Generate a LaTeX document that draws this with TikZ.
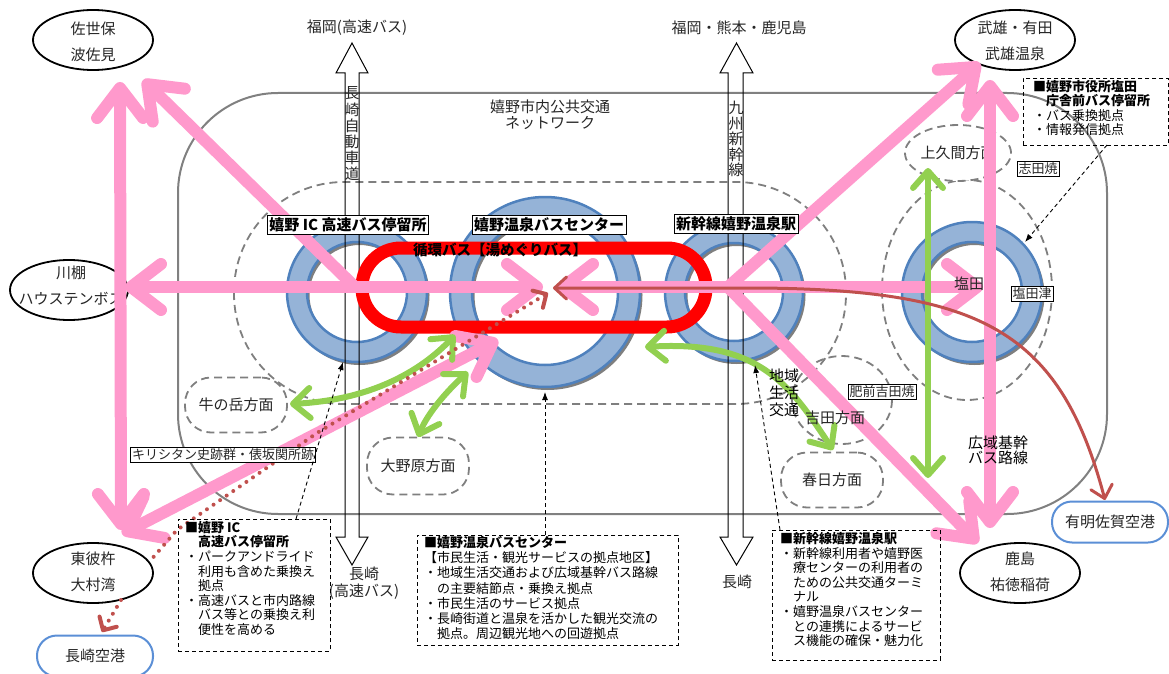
\documentclass[tikz,border=0pt]{standalone}
\usepackage{fontspec}
\setmainfont{Noto Sans CJK JP}
\usetikzlibrary{arrows.meta,shapes.geometric}
\definecolor{pinkc}{HTML}{FF99CC}
\definecolor{greenc}{HTML}{92D050}
\definecolor{brownc}{HTML}{C0504D}
\definecolor{ringc}{HTML}{95B3D7}
\definecolor{ringb}{HTML}{4F81BD}
\definecolor{shadowc}{HTML}{7F7F7F}
\definecolor{rectc}{HTML}{808080}
\definecolor{dgray}{HTML}{7F7F7F}
\definecolor{airc}{HTML}{5B8FD6}
\definecolor{txtc}{HTML}{262626}
\newcommand\myfs[2]{\fontsize{#1}{#2}\selectfont}
\newcommand\ringat[4]{%
  \fill[shadowc, even odd rule] (#1+2.5,#2+3) circle[radius=#3] (#1+2.5,#2+3) circle[radius=#4];
  \filldraw[fill=ringc, draw=ringb, line width=2.5pt, even odd rule] (#1,#2) circle[radius=#3] (#1,#2) circle[radius=#4];}
\tikzset{
  pk/.style={draw=pinkc, line width=12pt, >={Straight Barb[length=30pt,width=46pt,round]}},
  gr/.style={draw=greenc, line width=6pt, >={Straight Barb[length=17pt,width=30pt,round]}},
  br/.style={draw=brownc, line width=3pt, >={Straight Barb[length=12pt,width=22pt,round]}},
  brdot/.style={draw=brownc, line width=4pt, line cap=round, dash pattern=on 0pt off 8pt, >={Straight Barb[length=10pt,width=20pt,round]}},
  ptr/.style={draw=black, line width=0.9pt, dash pattern=on 4pt off 3pt, -{Latex[length=8pt,width=6pt]}},
  region/.style={draw=dgray, line width=1.8pt, dash pattern=on 8pt off 5pt, fill=white, rounded corners=26pt, minimum width=102pt, minimum height=55pt, font=\myfs{15}{17}, text=txtc},
  dashg/.style={draw=dgray, line width=1.8pt, dash pattern=on 8pt off 5pt},
  ell/.style={draw=black, ellipse, line width=1.8pt, fill=white, minimum width=120pt, minimum height=60pt},
  etext/.style={align=center, font=\myfs{15}{26}, text=txtc},
  airbox/.style={draw=airc, line width=2pt, fill=white, rounded corners=20pt, minimum width=116pt, minimum height=41pt, font=\myfs{15}{17}, text=txtc},
  lbl/.style={draw=black, line width=1pt, fill=white, inner sep=2pt, font=\myfs{15}{17}\bfseries},
  sbox/.style={draw=black, line width=0.8pt, fill=white, inner sep=1.5pt, font=\myfs{13}{15}, text=txtc},
  info/.style={draw=black, line width=0.9pt, dash pattern=on 4pt off 3pt, anchor=north west},
  infotext/.style={anchor=north west, align=left, text=black},
  plain/.style={font=\myfs{15}{17}, text=txtc},
}
\begin{document}
\begin{tikzpicture}[x=1pt,y=-1pt, every node/.style={inner sep=0pt}]
\useasboundingbox (0,0) rectangle (1169,674);

% outer network frame
\draw[draw=rectc, line width=2pt, rounded corners=100pt] (178,93) rectangle (1107,514);
\node[align=center, font=\myfs{15}{16}, text=txtc] (title) at (550,115) {嬉野市内公共交通\\ネットワーク};

% dashed zones
\draw[dashg, rounded corners=110pt] (234,182) rectangle (846,404);
\draw[dashg] (967,290) ellipse [x radius=85, y radius=110];
\draw[dashg] (842,400) ellipse [x radius=50, y radius=44];
\node[draw=dgray, line width=1.8pt, dash pattern=on 8pt off 5pt, fill=white, ellipse, minimum width=104pt, minimum height=56pt, font=\myfs{15}{17}, text=txtc] (kamikuma) at (958,153) {上久間方面};
\node[region] (ushi) at (236,405) {牛の岳方面};
\node[region, minimum height=57pt] (ono) at (418,466) {大野原方面};
\node[region] (kasuga) at (832,480) {春日方面};

% rings (stops)
\ringat{357}{292}{70}{50}
\ringat{545}{292}{95}{73}
\ringat{734}{292}{69}{49}
\ringat{972}{292}{70}{50}
\coordinate (icC) at (357,292);
\coordinate (bcC) at (545,292);
\coordinate (skC) at (734,292);
\coordinate (shC) at (972,292);

% highway & shinkansen outline arrows
\draw[line width=1pt] (352,43) -- (368,73) -- (359,73) -- (359,537) -- (368,537) -- (352,565) -- (336,537) -- (345,537) -- (345,73) -- (336,73) -- cycle;
\draw[line width=1pt] (736.5,43) -- (753,73) -- (743,73) -- (743,537) -- (753,537) -- (736.5,565) -- (720,537) -- (728,537) -- (728,73) -- (720,73) -- cycle;
\node[align=center, font=\myfs{15}{16.2}, text=txtc] (hwtxt) at (352,134) {長\\崎\\自\\動\\車\\道};
\node[align=center, font=\myfs{15}{15.6}, text=txtc] (sktxt) at (736,139) {九\\州\\新\\幹\\線};
\node[plain] (fk1) at (357,28) {福岡(高速バス)};
\node[plain] (fk2) at (739,28) {福岡・熊本・鹿児島};
\node[align=center, font=\myfs{15}{17}, text=txtc] (ng1) at (364,583) {長崎\\(高速バス)};
\node[plain] (ng2) at (737,582) {長崎};

% destination ellipses
\node[ell] (sasebo) at (93,40) {};
\node[etext] (saseboT) at (93,42) {佐世保\\波佐見};
\node[ell, minimum width=118pt] (kawatana) at (69,290) {};
\node[etext] (kawatanaT) at (71,286) {川棚\\ハウステンボス};
\node[ell] (higashi) at (93,573) {};
\node[etext] (higashiT) at (93,572) {東彼杵\\大村湾};
\node[ell] (takeo) at (1015,40) {};
\node[etext] (takeoT) at (1015,41) {武雄・有田\\武雄温泉};
\node[ell] (kashima) at (1020,573) {};
\node[etext] (kashimaT) at (1020,572) {鹿島\\祐徳稲荷};

% airports
\node[airbox] (nagair) at (95,656) {長崎空港};
\node[airbox] (ariair) at (1110,522) {有明佐賀空港};

% circulating bus loop
\draw[red, line width=13pt, rounded corners=39pt] (362,248) rectangle (706,327);

% pink trunk routes
\coordinate (icP) at (355,287);
\coordinate (skP) at (728,287);
\coordinate (bcL) at (543,287);
\coordinate (bcR) at (557,287);
\coordinate (kawaT) at (125,287);
\coordinate (sasT) at (143,80);
\coordinate (sasV) at (120,82);
\coordinate (higV) at (121,530);
\coordinate (higD) at (122,534);
\coordinate (bcD) at (498,340);
\coordinate (takeT) at (980,63);
\coordinate (takeV) at (990,80);
\coordinate (kashV) at (990,528);
\coordinate (kashT) at (978,543);
\coordinate (shioT) at (983,287);
\draw[pk,<->] (kawaT) -- (bcL);
\draw[pk,->] (icP) -- (sasT);
\draw[pk,<->] (sasV) -- (higV);
\draw[pk,<->] (higD) -- (bcD);
\draw[pk,<->] (bcR) -- (shioT);
\draw[pk,->] (skP) -- (takeT);
\draw[pk,->] (skP) -- (kashT);
\draw[pk,<->] (takeV) -- (kashV);

% green local routes
\coordinate (kamiG) at (928,168);
\coordinate (shioGB) at (928,478);
\coordinate (ushiG) at (290,404);
\coordinate (bcG1) at (455,335);
\coordinate (onoG) at (418,437);
\coordinate (bcG2) at (468,372);
\coordinate (skG) at (645,347);
\coordinate (kasG) at (833,450);
\draw[gr,<->] (kamiG) -- (shioGB);
\draw[gr,<->] (ushiG) .. controls (370,400) and (420,372) .. (bcG1);
\draw[gr,<->] (onoG) .. controls (428,412) and (450,388) .. (bcG2);
\draw[gr,<->] (skG) .. controls (760,340) and (790,385) .. (kasG);
\node[anchor=west, align=left, font=\myfs{15}{17}, text=black] (chiiki) at (769,393) {地域\\生活\\交通};
\node[plain] (yoshida) at (835,418) {吉田方面};

% dotted route to Nagasaki airport (passes behind the Higashisonogi ellipse)
\coordinate (dotA) at (548,293);
\coordinate (dotB) at (317,433);
\coordinate (dotC) at (177,530);
\coordinate (dotD) at (150,561);
\coordinate (dotE) at (121,600);
\coordinate (nagT) at (102,632);
\draw[brdot,<-] (dotA) -- (dotB) -- (dotC) -- (dotD);
\draw[brdot,->] (dotE) -- (nagT);

% brown route to Ariake Saga airport
\coordinate (bcB) at (553,288);
\coordinate (brM) at (760,288);
\coordinate (ariT) at (1105,500);
\draw[br,<->] (bcB) -- (brM) .. controls (980,290) and (1060,330) .. (ariT);

% stop labels
\node[lbl] (iclbl) at (348,225) {嬉野 IC 高速バス停留所};
\node[lbl] (bclbl) at (549,225) {嬉野温泉バスセンター};
\node[lbl] (sklbl) at (736,224) {新幹線嬉野温泉駅};
\node[font=\myfs{14.5}{16}\bfseries, text=black] (loop) at (500,250) {循環バス【湯めぐりバス】};
\node[plain] (shiota) at (969,284) {塩田};
\node[align=center, font=\myfs{15}{15}, text=black] (kouiki) at (998,450) {広域基幹\\バス路線};

% small boxed spots
\node[sbox] (kiri) at (223,455) {キリシタン史跡群・俵坂関所跡};
\node[sbox] (hizen) at (882,392) {肥前吉田焼};
\node[sbox] (shida) at (1038,169) {志田焼};
\node[sbox] (tsu) at (1032,294) {塩田津};

% info boxes
\node[info, minimum width=152pt, minimum height=132pt] (icbox) at (178,519) {};
\node[infotext, font=\myfs{13}{14.6}] (ictxt) at (185,521) {\textbf{■嬉野 IC}\\\hspace*{1em}\textbf{高速バス停留所}\\・パークアンドライド\\\hspace*{1em}利用も含めた乗換え\\\hspace*{1em}拠点\\・高速バスと市内路線\\\hspace*{1em}バス等との乗換え利\\\hspace*{1em}便性を高める};
\coordinate (icboxA) at (296,519);
\coordinate (icRing) at (343,362);
\draw[ptr] (icboxA) -- (icRing);

\node[info, minimum width=261pt, minimum height=110pt] (bcbox) at (417,535) {};
\node[infotext, font=\myfs{13}{15.2}] (bctxt) at (424,536) {\textbf{■嬉野温泉バスセンター}\\【市民生活・観光サービスの拠点地区】\\・地域生活交通および広域基幹バス路線\\\hspace*{1em}の主要結節点・乗換え拠点\\・市民生活のサービス拠点\\・長崎街道と温泉を活かした観光交流の\\\hspace*{1em}拠点。周辺観光地への回遊拠点};
\coordinate (bcboxA) at (545,535);
\coordinate (bcRing) at (545,392);
\draw[ptr] (bcboxA) -- (bcRing);

\node[info, minimum width=168pt, minimum height=130pt] (skbox) at (772,530) {};
\node[infotext, font=\myfs{13}{14.6}] (sktxt2) at (780,532) {\textbf{■新幹線嬉野温泉駅}\\・新幹線利用者や嬉野医\\\hspace*{1em}療センターの利用者の\\\hspace*{1em}ための公共交通ターミ\\\hspace*{1em}ナル\\・嬉野温泉バスセンター\\\hspace*{1em}との連携によるサービ\\\hspace*{1em}ス機能の確保・魅力化};
\coordinate (skboxA) at (780,530);
\coordinate (skRing) at (755,365);
\draw[ptr] (skboxA) -- (skRing);

\node[info, minimum width=145pt, minimum height=67pt] (shbox) at (1023,78) {};
\node[infotext, font=\myfs{13}{14.5}] (shtxt) at (1033,80) {\textbf{■嬉野市役所塩田}\\\hspace*{1em}\textbf{庁舎前バス停留所}\\・バス乗換拠点\\・情報発信拠点};
\coordinate (shboxA) at (1107,145);
\coordinate (shRing) at (1025,242);
\draw[ptr] (shboxA) -- (shRing);
\end{tikzpicture}
\end{document}
